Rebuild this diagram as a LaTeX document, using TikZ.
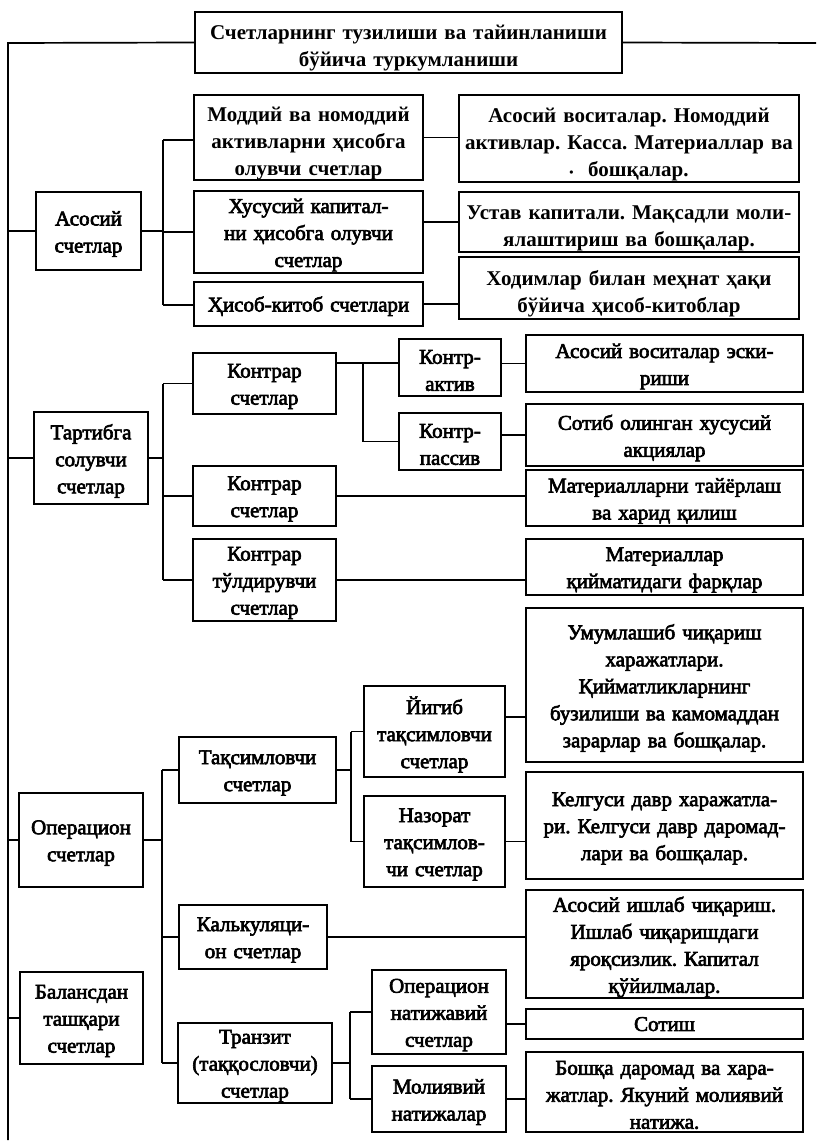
\documentclass[tikz,border=0pt]{standalone}
\usepackage{fontspec}
\setmainfont{Liberation Serif}
\newfontfamily\rgfont{Liberation Serif}[FakeBold=3]
\newfontfamily\bdfont{Liberation Serif Bold}
\frenchspacing
\tikzset{
  box/.style={draw, line width=1.8pt, inner sep=0pt, align=center, font=\rgfont\fontsize{21}{27}\selectfont,
    execute at end node={\par\vspace{-6pt}}},
  bbox/.style={box, font=\bdfont\fontsize{21}{27}\selectfont},
  conn/.style={line width=1.7pt}
}
\newcommand\bx[7][]{%
  \pgfmathsetmacro\bxw{#5-#3}\pgfmathsetmacro\bxh{#6-#4}%
  \pgfmathsetmacro\bxcx{(#3+#5)/2}\pgfmathsetmacro\bxcy{(#4+#6)/2}%
  \pgfmathsetmacro\bxtw{#5-#3-4}%
  \node[box,minimum width=\bxw pt,minimum height=\bxh pt,text width=\bxtw pt,#1] (#2) at (\bxcx,\bxcy) {#7};}
\begin{document}
\begin{tikzpicture}[x=1pt,y=-1pt]
\fill[white] (0,0) rectangle (816,1142);
\useasboundingbox (0,0) rectangle (816,1142);
% title
\bx[bbox]{title}{195}{12}{622}{73}{Счетларнинг тузилиши ва тайинланиши\\бўйича туркумланиши}
\coordinate (tl) at (8,43);
\coordinate (tr) at (816,43);
\coordinate (tb) at (8,1140);
\draw[conn] (tr) -- (title.east);
\draw[conn] (title.west) -- (tl) -- (tb);
% group A
\bx{asos}{36}{192}{141}{270}{Асосий\\счетлар}
\bx[bbox]{a1}{194}{95}{423}{180}{Моддий ва номоддий\\активларни ҳисобга\\олувчи счетлар}
\bx{a2}{194}{191}{423}{273}{Хусусий капитал-\\ни ҳисобга олувчи\\счетлар}
\bx{a3}{194}{282}{423}{326}{Ҳисоб-китоб счетлари}
\bx[bbox]{r1}{459}{95}{799}{182}{Асосий воситалар. Номоддий\\активлар. Касса. Материаллар ва\\{\fontsize{12}{12}\selectfont•}\hspace{0.7em}бошқалар.}
\bx[bbox]{r2}{459}{192}{799}{252}{Устав капитали. Мақсадли моли-\\ялаштириш ва бошқалар.}
\bx[bbox]{r3}{459}{257}{799}{319}{Ходимлар билан меҳнат ҳақи\\бўйича ҳисоб-китоблар}
\coordinate (busAt) at (163,140);
\coordinate (busAb) at (163,305);
\draw[conn] (asos.west -| tl) -- (asos.west);
\draw[conn] (asos.east) -- (asos.east -| busAt);
\draw[conn] (busAt) -- (busAb);
\draw[conn] (busAt) -- (busAt -| a1.west);
\draw[conn] (a2.west -| busAt) -- (a2.west);
\draw[conn] (busAb) -- (busAb -| a3.west);
\draw[conn] (a1.east) -- (a1.east -| r1.west);
\draw[conn] (r2.west) -- (r2.west -| a2.east);
\draw[conn] (a3.east) -- (a3.east -| r3.west);
% group B
\bx{tart}{34}{412}{148}{504}{Тартибга\\солувчи\\счетлар}
\bx{b1}{193}{353}{336}{414}{Контрар\\счетлар}
\bx{akt}{399}{339}{501}{396}{Контр-\\актив}
\bx{pas}{399}{413}{501}{470}{Контр-\\пассив}
\bx{b2}{193}{466}{336}{526}{Контрар\\счетлар}
\bx{b3}{193}{539}{336}{621}{Контрар\\тўлдирувчи\\счетлар}
\bx{ra}{526}{335}{803}{392}{Асосий воситалар эски-\\риши}
\bx{rp}{526}{404}{803}{466}{Сотиб олинган хусусий\\акциялар}
\bx{rm}{526}{470}{803}{526}{Материалларни тайёрлаш\\ва харид қилиш}
\bx{rq}{526}{539}{803}{595}{Материаллар\\қийматидаги фарқлар}
\coordinate (busBt) at (163,383.5);
\coordinate (busBb) at (163,580);
\coordinate (j1) at (363,363);
\draw[conn] (tart.west -| tl) -- (tart.west);
\draw[conn] (tart.east) -- (tart.east -| busBt);
\draw[conn] (busBt) -- (busBb);
\draw[conn] (busBt) -- (b1.west);
\draw[conn] (b2.west -| busBt) -- (b2.west);
\draw[conn] (busBb) -- (b3.west);
\draw[conn] (b1.east |- j1) -- (j1) -- (j1 -| akt.west);
\draw[conn] (j1) |- (pas.west);
\draw[conn] (ra.west) -- (ra.west -| akt.east);
\draw[conn] (rp.west) -- (rp.west -| pas.east);
\draw[conn] (b2.east) -- (b2.east -| rm.west);
\draw[conn] (b3.east) -- (b3.east -| rq.west);
% group C
\bx{op}{19}{793}{143}{887}{Операцион\\счетлар}
\bx{c1}{179}{737}{336}{803}{Тақсимловчи\\счетлар}
\bx{yig}{364}{686}{505}{777}{Йигиб\\тақсимловчи\\счетлар}
\bx{naz}{364}{796}{505}{887}{Назорат\\тақсимлов-\\чи счетлар}
\bx{umum}{526}{608}{803}{762}{Умумлашиб чиқариш\\харажатлари.\\Қийматликларнинг\\бузилиши ва камомаддан\\зарарлар ва бошқалар.}
\bx{kel}{526}{772}{803}{879}{Келгуси давр харажатла-\\ри. Келгуси давр даромад-\\лари ва бошқалар.}
\bx{kal}{179}{905}{327}{969}{Калькуляци-\\он счетлар}
\bx{asi}{526}{890}{803}{998}{Асосий ишлаб чиқариш.\\Ишлаб чиқаришдаги\\яроқсизлик. Капитал\\қўйилмалар.}
\bx{tr}{178}{1023}{332}{1103}{Транзит\\(таққословчи)\\счетлар}
\bx{on}{372}{970}{506}{1054}{Операцион\\натижавий\\счетлар}
\bx{mol}{372}{1066}{506}{1132}{Молиявий\\натижалар}
\bx{sot}{526}{1009}{803}{1039}{Сотиш}
\bx{bos}{526}{1052}{803}{1132}{Бошқа даромад ва хара-\\жатлар. Якуний молиявий\\натижа.}
\bx{bal}{20}{972}{143}{1064}{Балансдан\\ташқари\\счетлар}
\coordinate (busCt) at (162,770);
\coordinate (busCb) at (162,1063);
\coordinate (j3t) at (351,731.5);
\coordinate (j3b) at (351,841.5);
\coordinate (j4t) at (350,1012);
\coordinate (j4b) at (350,1099);
\coordinate (yj) at (505,717);
\draw[conn] (op.west -| tl) -- (op.west);
\draw[conn] (bal.west -| tl) -- (bal.west);
\draw[conn] (op.east) -- (op.east -| busCt);
\draw[conn] (busCt) -- (busCb);
\draw[conn] (busCt) -- (c1.west);
\draw[conn] (kal.west -| busCt) -- (kal.west);
\draw[conn] (busCb) -- (tr.west);
\draw[conn] (c1.east) -- (c1.east -| j3t);
\draw[conn] (j3t) -- (j3b);
\draw[conn] (j3t) -- (yig.west);
\draw[conn] (j3b) -- (naz.west);
\draw[conn] (yj) -- (yj -| umum.west);
\draw[conn] (naz.east) -- (naz.east -| kel.west);
\draw[conn] (kal.east) -- (kal.east -| asi.west);
\draw[conn] (tr.east) -- (tr.east -| j4t);
\draw[conn] (j4t) -- (j4b);
\draw[conn] (j4t) -- (on.west);
\draw[conn] (j4b) -- (mol.west);
\draw[conn] (sot.west) -- (sot.west -| on.east);
\draw[conn] (mol.east) -- (mol.east -| bos.west);
\end{tikzpicture}
\end{document}
